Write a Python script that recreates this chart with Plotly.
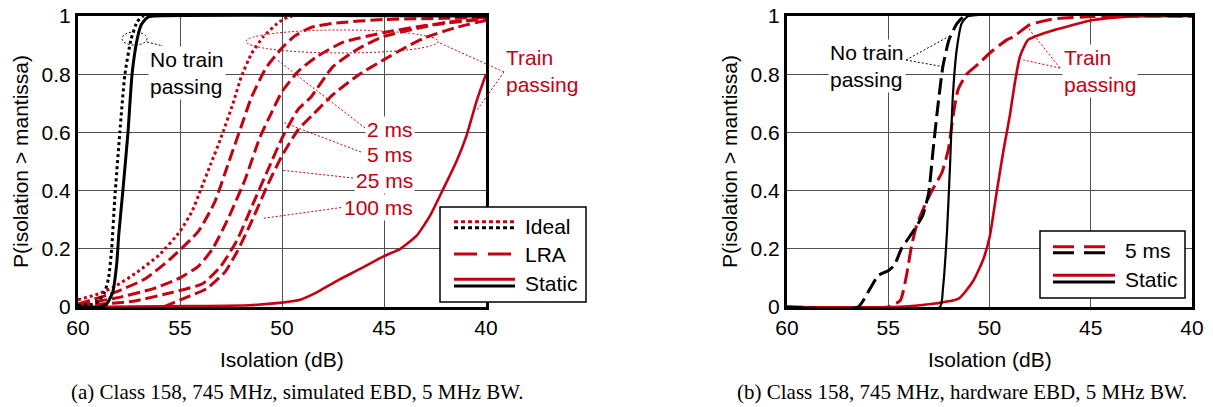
import plotly.graph_objects as go

W, H = 1213, 407
RED = "#C40012"
FONT = "Liberation Sans, Arial, sans-serif"
SERIF = "Liberation Serif, Times New Roman, serif"

# ---------------- data (left panel: simulated EBD) ----------------
ideal_train_x = [60, 59, 58.2, 57.1, 56.0, 55.0, 54.4, 54.0, 53.5, 53.0, 52.4, 52.0, 51.5, 50.9, 50.3, 49.9, 49.5]
ideal_train_y = [0.025, 0.045, 0.07, 0.12, 0.18, 0.26, 0.33, 0.40, 0.49, 0.58, 0.70, 0.79, 0.87, 0.93, 0.97, 0.99, 1.0]

lra2_x = [60, 58.2, 56.7, 55.4, 54.1, 53.3, 52.6, 52.0, 51.5, 50.8, 50.0, 49.4, 48.6, 47.5, 45.0, 42.0, 40]
lra2_y = [0.01, 0.05, 0.097, 0.17, 0.26, 0.36, 0.50, 0.62, 0.72, 0.82, 0.89, 0.93, 0.96, 0.975, 0.988, 0.992, 0.995]

lra5_x = [60, 58.2, 56.3, 55.0, 54.1, 53.4, 52.6, 51.8, 51.1, 50.5, 50.0, 49.2, 48.3, 47.0, 45.0, 43.2, 40]
lra5_y = [0.01, 0.03, 0.063, 0.10, 0.14, 0.20, 0.31, 0.44, 0.58, 0.67, 0.74, 0.81, 0.86, 0.91, 0.943, 0.965, 0.99]

lra25_x = [60, 57.3, 55.4, 53.9, 53.0, 52.2, 51.45, 50.7, 50.0, 49.2, 48.6, 47.5, 46.2, 45.0, 43.4, 41.8, 40]
lra25_y = [0.005, 0.02, 0.05, 0.08, 0.14, 0.23, 0.35, 0.47, 0.58, 0.68, 0.72, 0.826, 0.89, 0.93, 0.957, 0.98, 0.99]

lra100_x = [55.8, 54.8, 53.7, 52.8, 52.2, 51.45, 50.7, 50.0, 49.2, 48.5, 47.5, 46.2, 45.0, 44.0, 43.0, 41.5, 40]
lra100_y = [0.0, 0.03, 0.063, 0.12, 0.19, 0.30, 0.42, 0.52, 0.61, 0.66, 0.73, 0.80, 0.85, 0.89, 0.925, 0.96, 0.985]

static_train_x = [60, 54.5, 51.6, 50.0, 49.1, 48.3, 47.3, 46.2, 45.0, 44.2, 43.4, 42.75, 42.1, 41.45, 40.95, 40.45, 40.0]
static_train_y = [0, 0.003, 0.006, 0.015, 0.025, 0.05, 0.09, 0.13, 0.175, 0.20, 0.245, 0.313, 0.405, 0.50, 0.59, 0.71, 0.80]

static_none_x = [60, 58.9, 58.6, 58.3, 58.1, 58.0, 57.8, 57.55, 57.35, 57.1, 56.9, 56.6, 56.3, 40]
static_none_y = [0, 0, 0.01, 0.05, 0.15, 0.25, 0.40, 0.60, 0.80, 0.92, 0.97, 0.995, 1.0, 1.0]

ideal_none_x = [60, 59.3, 59.0, 58.7, 58.5, 58.35, 58.2, 57.95, 57.7, 57.4, 57.1, 56.8, 40]
ideal_none_y = [0.005, 0.01, 0.02, 0.05, 0.10, 0.20, 0.37, 0.60, 0.80, 0.92, 0.98, 1.0, 1.0]

# ---------------- data (right panel: hardware EBD) ----------------
hw5_none_x = [60, 56.5, 55.9, 55.5, 55.0, 54.7, 54.35, 53.8, 53.3, 53.0, 52.8, 52.55, 52.3, 52.0, 51.6, 51.2, 40]
hw5_none_y = [0, 0, 0.063, 0.108, 0.125, 0.143, 0.20, 0.257, 0.314, 0.393, 0.53, 0.69, 0.827, 0.918, 0.975, 1.0, 1.0]

hwst_none_x = [60, 52.45, 52.3, 52.1, 51.95, 51.82, 51.62, 51.37, 51.05, 40]
hwst_none_y = [0, 0, 0.063, 0.257, 0.485, 0.713, 0.884, 0.975, 1.0, 1.0]

hw5_train_x = [60, 55.0, 54.4, 54.1, 53.85, 53.6, 53.2, 52.8, 52.35, 52.03, 51.8, 51.55, 51.13, 50.5, 50.0, 49.15, 48.8, 48.0, 46.85, 44.9, 43.0, 40]
hw5_train_y = [0, 0, 0.023, 0.108, 0.21, 0.28, 0.348, 0.405, 0.462, 0.542, 0.656, 0.747, 0.80, 0.838, 0.872, 0.918, 0.93, 0.97, 0.99, 0.998, 1.0, 1.0]

hwst_train_x = [60, 54.75, 52.8, 51.5, 50.8, 50.3, 49.98, 49.65, 49.3, 49.0, 48.75, 48.5, 48.1, 47.35, 46.2, 44.9, 43.2, 40]
hwst_train_y = [0, 0, 0.011, 0.03, 0.09, 0.165, 0.245, 0.393, 0.542, 0.656, 0.77, 0.86, 0.918, 0.94, 0.963, 0.986, 0.998, 1.0]

x_ticks = [60, 55, 50, 45, 40]
y_ticks = [0, 0.2, 0.4, 0.6, 0.8, 1.0]
y_tick_labels = ["0", "0.2", "0.4", "0.6", "0.8", "1"]

# ---------------- layout geometry ----------------
def PX(x):
    return x / W

def PY(y):
    return 1 - y / H

L_DOM = [PX(78), PX(486)]
R_DOM = [PX(787), PX(1192)]
Y_DOM = [PY(307), PY(16)]

def d2p(xv, yv, dom):
    fx = (60 - xv) / 20.0
    return dom[0] + fx * (dom[1] - dom[0]), Y_DOM[0] + yv * (Y_DOM[1] - Y_DOM[0])

fig = go.Figure()

def add(x, y, color, width, dash, xa, ya):
    fig.add_trace(go.Scatter(x=x, y=y, mode="lines", xaxis=xa, yaxis=ya,
                             line=dict(color=color, width=width, dash=dash, shape="spline", smoothing=0.5),
                             showlegend=False, hoverinfo="skip"))

CURVE_DASH = "12px,5px"
add(static_train_x, static_train_y, RED, 2.6, "solid", "x", "y")
add(lra100_x, lra100_y, RED, 3, CURVE_DASH, "x", "y")
add(lra25_x, lra25_y, RED, 3, CURVE_DASH, "x", "y")
add(lra5_x, lra5_y, RED, 3, CURVE_DASH, "x", "y")
add(lra2_x, lra2_y, RED, 3, CURVE_DASH, "x", "y")
add(ideal_train_x, ideal_train_y, RED, 3, "3px,3px", "x", "y")
add(ideal_none_x, ideal_none_y, "black", 3, "3px,3px", "x", "y")
add(static_none_x, static_none_y, "black", 3, "solid", "x", "y")

HW_DASH = "16px,6px"
add(hwst_train_x, hwst_train_y, RED, 2.6, "solid", "x2", "y2")
add(hw5_train_x, hw5_train_y, RED, 3, HW_DASH, "x2", "y2")
add(hwst_none_x, hwst_none_y, "black", 2.2, "solid", "x2", "y2")
add(hw5_none_x, hw5_none_y, "black", 3, HW_DASH, "x2", "y2")

axis_common = dict(showgrid=True, gridcolor="#505050", gridwidth=1.2, zeroline=False,
                   showline=True, mirror=True, linecolor="black", linewidth=3,
                   ticks="", tickfont=dict(family=FONT, size=21, color="black"))

fig.update_layout(
    width=W, height=H, margin=dict(l=0, r=0, t=0, b=0, autoexpand=False),
    paper_bgcolor="white", plot_bgcolor="white",
    xaxis=dict(domain=L_DOM, range=[60, 40], tickvals=x_ticks, anchor="y", **axis_common),
    yaxis=dict(domain=Y_DOM, range=[0, 1], tickvals=y_ticks, ticktext=y_tick_labels, anchor="x", **axis_common),
    xaxis2=dict(domain=R_DOM, range=[60, 40], tickvals=x_ticks, anchor="y2", **axis_common),
    yaxis2=dict(domain=Y_DOM, range=[0, 1], tickvals=y_ticks, ticktext=y_tick_labels, anchor="x2", **axis_common),
)

shapes = []
annotations = []

def line_paper(x0, y0, x1, y1, color, width, dash):
    shapes.append(dict(type="line", xref="paper", yref="paper", x0=x0, y0=y0, x1=x1, y1=y1,
                       line=dict(color=color, width=width, dash=dash), layer="above"))

def text(xp, yp, s, color="black", size=21, xanchor="center", align="center", bg=None, family=FONT, yanchor="middle"):
    a = dict(x=xp, y=yp, xref="paper", yref="paper", text=s, showarrow=False,
             font=dict(family=family, size=size, color=color), xanchor=xanchor, yanchor=yanchor, align=align)
    if bg:
        a["bgcolor"] = bg
    annotations.append(a)

# axis titles & captions
for cx in (282, 990):
    text(PX(cx), PY(359), "Isolation (dB)")
text(PX(20), PY(162), "P(isolation &gt; mantissa)")
annotations[-1]["textangle"] = -90
text(PX(729), PY(162), "P(isolation &gt; mantissa)")
annotations[-1]["textangle"] = -90
text(PX(297), PY(406), "(a) Class 158, 745 MHz, simulated EBD, 5 MHz BW.", size=21, family=SERIF, yanchor="bottom")
text(PX(962), PY(406), "(b) Class 158, 745 MHz, hardware EBD, 5 MHz BW.", size=21, family=SERIF, yanchor="bottom")

# ---- left panel annotations ----
shapes.append(dict(type="circle", xref="x", yref="y", x0=51.76, x1=42.35, y0=0.873, y1=0.952,
                   line=dict(color=RED, width=1, dash="2px,2px"), layer="above"))
shapes.append(dict(type="circle", xref="x", yref="y", x0=57.84, x1=56.62, y0=0.90, y1=0.945,
                   line=dict(color="black", width=1, dash="2px,2px"), layer="above"))
line_paper(PX(147), PY(42), PX(163), PY(46), "black", 1, "2px,2px")

for (tx, ty, dx, dy) in ((365, 128, 50.25, 0.85), (361, 152, 50.0, 0.636),
                         (353, 178, 50.0, 0.47), (345, 207, 50.9, 0.305)):
    ex, ey = d2p(dx, dy, L_DOM)
    line_paper(PX(tx), PY(ty), ex, ey, RED, 1, "2px,2px")

ex, ey = d2p(42.35, 0.91, L_DOM)
line_paper(PX(504), PY(72), ex, ey, RED, 1, "2px,2px")
ex, ey = d2p(40.44, 0.677, L_DOM)
line_paper(PX(504), PY(72), ex, ey, RED, 1, "2px,2px")

text(PX(148), PY(73), "No train<br>passing", xanchor="left", align="left", bg="white")
text(PX(415), PY(129), "2 ms", color=RED, xanchor="right", align="right", bg="white")
text(PX(415), PY(154), "5 ms", color=RED, xanchor="right", align="right", bg="white")
text(PX(415), PY(180), "25 ms", color=RED, xanchor="right", align="right", bg="white")
text(PX(415), PY(207), "100 ms", color=RED, xanchor="right", align="right", bg="white")
text(PX(504), PY(71), "Train<br>passing", color=RED, xanchor="left", align="left", bg="white")

shapes.append(dict(type="rect", xref="paper", yref="paper", x0=PX(440), x1=PX(586), y0=PY(302), y1=PY(207),
                   line=dict(color="black", width=1.5), fillcolor="white", layer="above"))
line_paper(PX(454), PY(221.7), PX(515), PY(221.7), RED, 3, "4px,3px")
line_paper(PX(454), PY(227.7), PX(515), PY(227.7), "black", 3, "4px,3px")
line_paper(PX(454), PY(254), PX(515), PY(254), RED, 3, "23px,11px")
line_paper(PX(454), PY(279.3), PX(515), PY(279.3), RED, 3, "solid")
line_paper(PX(454), PY(286), PX(515), PY(286), "black", 3, "solid")
text(PX(523), PY(226), "Ideal", xanchor="left", align="left")
text(PX(523), PY(254), "LRA", xanchor="left", align="left")
text(PX(523), PY(283), "Static", xanchor="left", align="left")

# ---- right panel annotations ----
for (dx, dy) in ((52.03, 0.929), (52.31, 0.826)):
    ex, ey = d2p(dx, dy, R_DOM)
    line_paper(PX(906), PY(60), ex, ey, "black", 1, "2px,2px")
for (dx, dy) in ((48.08, 0.958), (48.33, 0.849)):
    ex, ey = d2p(dx, dy, R_DOM)
    line_paper(PX(1060), PY(68), ex, ey, RED, 1, "2px,2px")

text(PX(828), PY(66), "No train<br>passing", xanchor="left", align="left", bg="white")
text(PX(1062), PY(71), "Train<br>passing", color=RED, xanchor="left", align="left", bg="white")

shapes.append(dict(type="rect", xref="paper", yref="paper", x0=PX(1040), x1=PX(1185), y0=PY(298), y1=PY(231),
                   line=dict(color="black", width=1.5), fillcolor="white", layer="above"))
line_paper(PX(1053), PY(246.7), PX(1107), PY(246.7), RED, 3, "21px,10px")
line_paper(PX(1053), PY(252.7), PX(1107), PY(252.7), "black", 3, "21px,10px")
line_paper(PX(1053), PY(275.3), PX(1115), PY(275.3), RED, 3, "solid")
line_paper(PX(1053), PY(282), PX(1115), PY(282), "black", 3, "solid")
text(PX(1123), PY(250), "5 ms", xanchor="left", align="left")
text(PX(1123), PY(279), "Static", xanchor="left", align="left")

fig.update_layout(shapes=shapes, annotations=annotations)
fig.write_html("out.html", config={"displayModeBar": False},
               post_script="document.body.style.margin='0px';")
